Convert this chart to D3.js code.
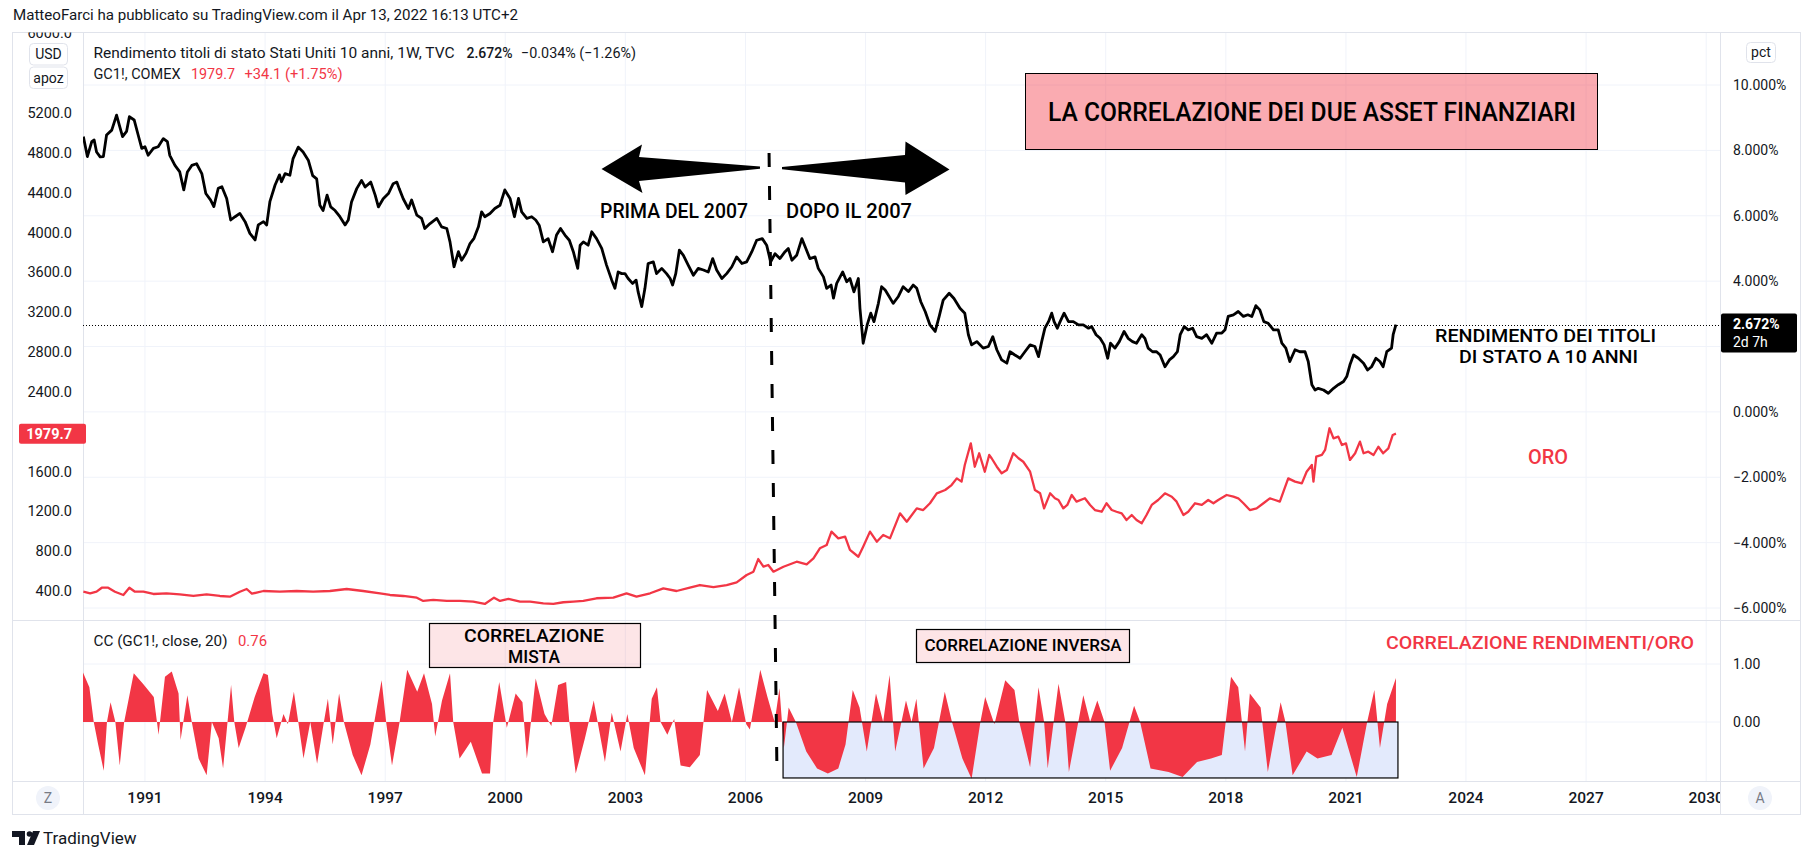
<!DOCTYPE html>
<html>
<head>
<meta charset="utf-8">
<script src="https://cdn.jsdelivr.net/npm/d3@7"></script>
<style>
  body { margin: 0; background: #fff; }
  svg text { font-family: Roboto, "Noto Sans", sans-serif; }
</style>
</head>
<body>
<div id="chart"></div>
<script>
// Valori (anni decimali)
const yearTicks = [1991, 1994, 1997, 2000, 2003, 2006, 2009, 2012, 2015, 2018, 2021, 2024, 2027, 2030];
const usdTicks = [6000, 5200, 4800, 4400, 4000, 3600, 3200, 2800, 2400, 1600, 1200, 800, 400];
const pctTicks = [10, 8, 6, 4, 2, 0, -2, -4, -6];
const pctLabels = [10, 8, 6, 4, 0, -2, -4, -6];
const ccTicks = [1, 0];

// Rendimento titoli di stato USA 10 anni (%)
const yieldSeries = [
  [1989.46,8.42],[1989.56,7.81],[1989.67,8.27],[1989.73,8.32],[1989.79,7.95],[1989.88,7.8],[1989.96,7.81],[1990.04,8.47],
  [1990.17,8.62],[1990.29,9.08],[1990.38,8.68],[1990.44,8.42],[1990.54,8.58],[1990.61,9.03],[1990.73,8.93],[1990.83,8.47],
  [1990.92,8.06],[1991.00,8.11],[1991.08,7.85],[1991.21,8.06],[1991.33,8.11],[1991.46,8.36],[1991.56,8.27],[1991.62,7.85],
  [1991.75,7.54],[1991.87,7.34],[1991.97,6.79],[1992.06,7.34],[1992.17,7.54],[1992.29,7.59],[1992.42,7.29],[1992.52,6.68],
  [1992.64,6.48],[1992.72,6.28],[1992.83,6.84],[1992.92,6.89],[1993.04,6.53],[1993.14,5.87],[1993.25,5.97],[1993.37,6.07],
  [1993.50,5.82],[1993.62,5.46],[1993.75,5.26],[1993.83,5.72],[1993.96,5.82],[1994.04,5.72],[1994.12,6.43],[1994.25,6.94],
  [1994.36,7.25],[1994.41,7.04],[1994.50,7.29],[1994.62,7.24],[1994.70,7.75],[1994.83,8.10],[1994.95,7.95],[1995.08,7.70],
  [1995.19,7.23],[1995.29,7.13],[1995.37,6.32],[1995.45,6.16],[1995.55,6.63],[1995.64,6.27],[1995.75,6.16],[1995.87,5.97],
  [1996.00,5.72],[1996.08,5.87],[1996.16,6.42],[1996.29,6.83],[1996.41,7.08],[1996.50,6.88],[1996.64,7.03],[1996.75,6.63],
  [1996.83,6.27],[1996.95,6.52],[1997.08,6.68],[1997.20,6.98],[1997.29,7.03],[1997.35,6.83],[1997.45,6.52],[1997.58,6.22],
  [1997.66,6.48],[1997.79,6.02],[1997.91,5.92],[1997.99,5.61],[1998.12,5.76],[1998.29,5.92],[1998.41,5.66],[1998.54,5.61],
  [1998.62,5.20],[1998.72,4.44],[1998.83,4.90],[1998.91,4.64],[1999.02,4.85],[1999.12,5.15],[1999.22,5.31],[1999.33,5.66],
  [1999.41,6.12],[1999.49,5.97],[1999.62,6.07],[1999.74,6.22],[1999.87,6.32],[1999.99,6.79],[2000.12,6.53],[2000.23,5.97],
  [2000.33,6.53],[2000.41,6.12],[2000.54,5.92],[2000.66,5.97],[2000.76,5.87],[2000.85,5.70],[2000.95,5.20],[2001.07,5.30],
  [2001.18,4.90],[2001.28,5.41],[2001.38,5.61],[2001.49,5.41],[2001.60,5.25],[2001.70,4.90],[2001.81,4.39],[2001.87,5.10],
  [2001.95,5.20],[2002.07,5.10],[2002.16,5.51],[2002.28,5.30],[2002.41,5.00],[2002.53,4.49],[2002.66,4.03],[2002.74,3.78],
  [2002.82,4.28],[2002.91,4.23],[2002.99,4.23],[2003.07,4.08],[2003.18,3.93],[2003.27,4.03],[2003.32,3.67],[2003.41,3.22],
  [2003.49,3.78],[2003.57,4.54],[2003.70,4.59],[2003.78,4.23],[2003.91,4.39],[2004.03,4.23],[2004.12,4.08],[2004.18,3.88],
  [2004.26,4.23],[2004.35,4.95],[2004.45,4.79],[2004.57,4.49],[2004.70,4.18],[2004.82,4.39],[2004.95,4.34],[2005.07,4.28],
  [2005.18,4.69],[2005.28,4.34],[2005.41,4.08],[2005.53,4.23],[2005.66,4.44],[2005.78,4.74],[2005.91,4.54],[2006.03,4.59],
  [2006.16,4.90],[2006.28,5.25],[2006.42,5.30],[2006.53,5.10],[2006.63,4.59],[2006.74,4.84],[2006.86,4.69],[2006.99,4.90],
  [2007.07,5.00],[2007.16,4.64],[2007.28,4.79],[2007.41,5.30],[2007.51,5.00],[2007.61,4.69],[2007.74,4.74],[2007.82,4.39],
  [2007.95,4.13],[2008.03,3.78],[2008.14,3.88],[2008.20,3.48],[2008.28,3.93],[2008.43,4.28],[2008.53,3.98],[2008.61,4.08],
  [2008.71,3.67],[2008.82,4.08],[2008.86,3.17],[2008.94,2.10],[2009.04,2.66],[2009.13,3.02],[2009.21,2.76],[2009.32,3.32],
  [2009.40,3.83],[2009.49,3.73],[2009.57,3.57],[2009.69,3.32],[2009.82,3.53],[2009.94,3.83],[2010.07,3.68],[2010.19,3.88],
  [2010.28,3.78],[2010.38,3.37],[2010.49,3.07],[2010.61,2.66],[2010.74,2.46],[2010.84,2.92],[2010.94,3.42],[2011.09,3.63],
  [2011.21,3.47],[2011.36,3.17],[2011.48,3.02],[2011.57,2.36],[2011.65,2.05],[2011.78,2.15],[2011.94,1.95],[2012.07,2.00],
  [2012.18,2.30],[2012.28,1.90],[2012.40,1.59],[2012.53,1.49],[2012.61,1.84],[2012.73,1.74],[2012.86,1.64],[2012.98,1.84],
  [2013.11,2.05],[2013.23,2.00],[2013.32,1.69],[2013.40,2.15],[2013.48,2.56],[2013.57,2.76],[2013.65,3.02],[2013.71,2.76],
  [2013.79,2.56],[2013.86,2.76],[2013.96,3.02],[2014.07,2.76],[2014.19,2.76],[2014.32,2.66],[2014.44,2.66],[2014.57,2.56],
  [2014.65,2.61],[2014.76,2.36],[2014.86,2.25],[2014.96,2.05],[2015.05,1.64],[2015.12,2.10],[2015.23,1.95],[2015.34,2.15],
  [2015.46,2.46],[2015.56,2.25],[2015.67,2.15],[2015.77,2.10],[2015.90,2.36],[2015.98,2.25],[2016.06,1.95],[2016.17,1.84],
  [2016.27,1.84],[2016.36,1.74],[2016.48,1.38],[2016.59,1.59],[2016.69,1.69],[2016.79,1.84],[2016.86,2.36],[2016.96,2.61],
  [2017.06,2.51],[2017.17,2.56],[2017.27,2.30],[2017.40,2.25],[2017.52,2.36],[2017.65,2.10],[2017.77,2.41],[2017.90,2.41],
  [2017.98,2.51],[2018.06,2.92],[2018.19,2.97],[2018.31,3.07],[2018.44,2.92],[2018.55,2.97],[2018.65,2.92],[2018.75,3.25],
  [2018.85,3.12],[2018.95,2.76],[2019.06,2.71],[2019.19,2.51],[2019.31,2.51],[2019.40,2.10],[2019.50,1.95],[2019.60,1.54],
  [2019.73,1.90],[2019.85,1.84],[2019.98,1.84],[2020.06,1.54],[2020.15,0.83],[2020.23,0.67],[2020.31,0.72],[2020.44,0.67],
  [2020.56,0.57],[2020.69,0.72],[2020.81,0.83],[2020.94,0.93],[2021.02,1.08],[2021.10,1.44],[2021.19,1.74],[2021.31,1.64],
  [2021.44,1.49],[2021.54,1.28],[2021.64,1.38],[2021.75,1.64],[2021.85,1.54],[2021.93,1.38],[2022.02,1.84],[2022.14,1.95],
  [2022.18,2.36],[2022.25,2.672]
];

// Oro GC1! COMEX (USD)
const goldSeries = [
  [1989.46,393],[1989.63,377],[1989.79,393],[1989.92,433],[1990.08,433],[1990.25,393],[1990.46,360],[1990.61,433],
  [1990.75,393],[1990.96,393],[1991.21,370],[1991.54,377],[1991.87,367],[1992.21,350],[1992.54,367],[1992.87,350],
  [1993.12,343],[1993.37,393],[1993.54,420],[1993.67,373],[1993.96,400],[1994.37,393],[1994.79,400],[1995.20,393],
  [1995.62,400],[1996.04,420],[1996.45,400],[1996.87,377],[1997.12,360],[1997.45,350],[1997.79,333],[1997.95,300],
  [1998.20,310],[1998.54,300],[1998.87,300],[1999.20,293],[1999.49,270],[1999.72,333],[1999.87,300],[2000.08,320],
  [2000.37,293],[2000.62,293],[2000.95,276],[2001.20,270],[2001.45,287],[2001.70,293],[2001.95,300],[2002.28,327],
  [2002.70,333],[2003.03,377],[2003.28,343],[2003.62,377],[2003.95,427],[2004.28,400],[2004.61,433],[2004.86,460],
  [2005.20,440],[2005.53,460],[2005.78,487],[2006.03,561],[2006.20,594],[2006.32,721],[2006.45,644],[2006.57,661],
  [2006.70,594],[2006.95,644],[2007.28,694],[2007.53,668],[2007.70,728],[2007.86,829],[2008.03,862],[2008.15,996],
  [2008.32,929],[2008.49,945],[2008.61,812],[2008.82,744],[2008.94,845],[2009.11,996],[2009.28,895],[2009.44,962],
  [2009.61,929],[2009.86,1180],[2010.03,1096],[2010.28,1230],[2010.44,1213],[2010.61,1281],[2010.78,1381],[2010.99,1414],
  [2011.15,1464],[2011.28,1531],[2011.40,1498],[2011.48,1665],[2011.63,1883],[2011.73,1648],[2011.84,1783],[2011.98,1598],
  [2012.09,1766],[2012.15,1733],[2012.28,1648],[2012.40,1582],[2012.53,1615],[2012.69,1783],[2012.82,1733],[2012.94,1698],
  [2013.11,1598],[2013.23,1414],[2013.36,1381],[2013.46,1230],[2013.61,1381],[2013.73,1331],[2013.82,1314],[2013.94,1230],
  [2014.04,1264],[2014.15,1364],[2014.27,1297],[2014.48,1331],[2014.61,1264],[2014.73,1213],[2014.90,1196],[2015.02,1281],
  [2015.15,1213],[2015.27,1196],[2015.40,1180],[2015.52,1113],[2015.65,1163],[2015.77,1113],[2015.90,1080],[2016.02,1163],
  [2016.15,1264],[2016.31,1314],[2016.48,1381],[2016.65,1347],[2016.77,1297],[2016.94,1163],[2017.06,1196],[2017.23,1281],
  [2017.40,1264],[2017.56,1314],[2017.69,1281],[2017.81,1314],[2018.02,1364],[2018.19,1347],[2018.31,1331],[2018.44,1281],
  [2018.60,1213],[2018.77,1230],[2018.94,1281],[2019.10,1331],[2019.23,1314],[2019.35,1297],[2019.44,1397],[2019.56,1531],
  [2019.73,1498],[2019.90,1481],[2020.02,1598],[2020.15,1665],[2020.19,1498],[2020.26,1749],[2020.40,1766],[2020.48,1816],
  [2020.59,2034],[2020.69,1933],[2020.81,1950],[2020.90,1866],[2021.00,1883],[2021.10,1716],[2021.23,1783],[2021.35,1900],
  [2021.44,1783],[2021.56,1799],[2021.69,1766],[2021.81,1849],[2021.93,1783],[2022.06,1833],[2022.17,1967],[2022.25,1979.7]
];

// CC (GC1!, close, 20)
const ccSeries = [
  [1989.44,0.87],[1989.61,0.6],[1989.72,0],[1989.83,-0.39],[1989.97,-0.84],[1990.05,0],[1990.14,0.34],[1990.26,0],
  [1990.37,-0.75],[1990.48,0],[1990.72,0.84],[1990.95,0.66],[1991.22,0.43],[1991.34,-0.22],[1991.50,0.78],[1991.67,0.87],
  [1991.84,0.49],[1991.89,-0.31],[1992.06,0.46],[1992.17,0],[1992.34,-0.63],[1992.54,-0.92],[1992.67,0],[1992.84,-0.28],
  [1992.95,-0.8],[1993.15,0.64],[1993.23,0],[1993.34,-0.45],[1993.51,-0.1],[1993.74,0.43],[1993.96,0.84],[1994.07,0.81],
  [1994.18,0.14],[1994.29,-0.28],[1994.46,0.14],[1994.57,-0.04],[1994.72,0.52],[1994.83,0],[1994.96,-0.63],[1995.13,0],
  [1995.30,-0.72],[1995.46,-0.04],[1995.57,0.4],[1995.69,-0.39],[1995.85,0.49],[1995.97,0],[1996.19,-0.57],[1996.41,-0.92],
  [1996.63,-0.39],[1996.91,0.72],[1997.03,-0.04],[1997.17,-0.75],[1997.36,0],[1997.55,0.9],[1997.80,0.52],[1997.97,0.84],
  [1998.17,0.31],[1998.25,-0.25],[1998.42,0.37],[1998.62,0.84],[1998.70,0],[1998.86,-0.63],[1999.14,-0.34],[1999.42,-0.89],
  [1999.62,-0.89],[1999.70,0],[1999.85,0.69],[2000.04,-0.1],[2000.26,0.49],[2000.43,0.34],[2000.54,-0.63],[2000.76,0.75],
  [2000.98,0.14],[2001.15,-0.07],[2001.32,0.64],[2001.52,0.69],[2001.60,0],[2001.76,-0.89],[2001.99,-0.28],[2002.21,0.37],
  [2002.49,-0.69],[2002.66,0.16],[2002.88,-0.51],[2003.05,0.14],[2003.21,-0.45],[2003.49,-0.92],[2003.66,0.4],[2003.79,0.6],
  [2003.88,0],[2004.05,-0.22],[2004.22,0.05],[2004.38,-0.75],[2004.61,-0.78],[2004.86,-0.57],[2005.04,0.55],[2005.31,0.19],
  [2005.48,0.49],[2005.66,0],[2005.84,0.6],[2006.02,-0.04],[2006.11,-0.13],[2006.37,0.9],[2006.55,0.43],[2006.73,0],
  [2006.85,0.58],[2006.96,-0.45],[2007.08,0.25],[2007.26,0],[2007.52,-0.51],[2007.79,-0.8],[2008.06,-0.89],[2008.32,-0.8],
  [2008.50,-0.39],[2008.68,0.55],[2008.85,0.25],[2009.03,-0.51],[2009.26,0.49],[2009.44,0],[2009.60,0.81],[2009.74,-0.51],
  [2010.01,0.37],[2010.15,0],[2010.27,0.4],[2010.45,-0.8],[2010.71,-0.45],[2010.98,0.52],[2011.16,0],[2011.42,-0.63],
  [2011.65,-0.98],[2011.87,0],[2011.99,0.43],[2012.22,-0.04],[2012.49,0.72],[2012.72,0.55],[2012.84,0],[2013.11,-0.78],
  [2013.32,0.6],[2013.46,0],[2013.55,-0.8],[2013.82,0.66],[2013.99,0],[2014.08,-0.86],[2014.44,0.46],[2014.61,0],
  [2014.79,0.37],[2014.97,0],[2015.11,-0.84],[2015.41,-0.45],[2015.71,0.28],[2015.86,0],[2016.12,-0.8],[2016.57,-0.86],
  [2016.92,-0.95],[2017.28,-0.69],[2017.63,-0.63],[2017.90,-0.57],[2018.13,0.78],[2018.31,0.6],[2018.48,-0.51],[2018.60,0.49],
  [2018.87,0.25],[2019.05,-0.86],[2019.37,0.34],[2019.49,0],[2019.67,-0.92],[2020.02,-0.51],[2020.29,-0.63],[2020.64,-0.57],
  [2020.91,-0.1],[2021.27,-0.95],[2021.53,0],[2021.71,0.55],[2021.85,-0.45],[2022.03,0.31],[2022.25,0.76]
];

const lastYield = 2.672, lastGold = 1979.7, lastCC = 0.76;
const split2007 = [2006.59, 2006.79];   // linea tratteggiata
const inverseSpan = [2006.94, 2022.30]; // rettangolo blu

const red = '#f23645', ink = '#131722', grid = '#f0f3fa', border = '#e0e3eb';
const W = 1813, H = 859;
const plotL = 83, plotR = 1720, frameL = 12.5, frameR = 1800.5;
const topY0 = 32.5, topY1 = 620, ccY1 = 781, axisY1 = 814.5;

// anno decimale -> Date
const toDate = y => {
  const yr = Math.floor(y);
  const a = Date.UTC(yr, 0, 1), b = Date.UTC(yr + 1, 0, 1);
  return new Date(a + (y - yr) * (b - a));
};

document.addEventListener('DOMContentLoaded', () => {
  const svg = d3.select('#chart').append('svg')
    .attr('width', W).attr('height', H)
    .style('display', 'block');

  const x = d3.scaleTime().domain([toDate(1989.451), toDate(2030.345)]).range([plotL, plotR]);
  const yUsd = d3.scaleLinear().domain([400, 5200]).range([591, 113]);
  const yPct = d3.scaleLinear().domain([-6, 10]).range([608, 85]);
  const yCC = d3.scaleLinear().domain([-1, 1]).range([780, 664]);

  const defs = svg.append('defs');
  const clip = (id, x0, y0, w, h) => defs.append('clipPath').attr('id', id)
    .append('rect').attr('x', x0).attr('y', y0).attr('width', w).attr('height', h);
  clip('clip-top', plotL, topY0, plotR - plotL, topY1 - topY0);
  clip('clip-cc', plotL, topY1, plotR - plotL, ccY1 - topY1);
  clip('clip-left', frameL, topY0, plotL - frameL, topY1 - topY0);
  clip('clip-time', plotL, ccY1, plotR - plotL, axisY1 - ccY1);

  // testo a larghezza fissa (misurata sul riferimento)
  const txt = (tx, ty, str, size, len, opts = {}) => svg.append('text')
    .attr('x', tx).attr('y', ty).attr('dy', '0.35em')
    .attr('text-anchor', opts.anchor || 'start')
    .attr('font-size', size).attr('font-weight', opts.weight || 400)
    .attr('fill', opts.color || ink)
    .attr('textLength', len).attr('lengthAdjust', 'spacingAndGlyphs')
    .text(str);

  // Intestazione
  txt(13, 15, 'MatteoFarci ha pubblicato su TradingView.com il Apr 13, 2022 16:13 UTC+2', 15, 505);

  // Griglia
  const g = svg.append('g');
  g.selectAll('.vgrid').data(yearTicks).enter().append('line')
    .attr('x1', d => x(toDate(d))).attr('x2', d => x(toDate(d)))
    .attr('y1', topY0).attr('y2', ccY1)
    .attr('stroke', grid).attr('clip-path', 'url(#clip-top)');
  g.selectAll('.vgrid2').data(yearTicks).enter().append('line')
    .attr('x1', d => x(toDate(d))).attr('x2', d => x(toDate(d)))
    .attr('y1', topY1).attr('y2', ccY1)
    .attr('stroke', grid).attr('clip-path', 'url(#clip-cc)');
  g.selectAll('.hgrid').data(pctTicks).enter().append('line')
    .attr('x1', plotL).attr('x2', plotR)
    .attr('y1', d => yPct(d)).attr('y2', d => yPct(d))
    .attr('stroke', grid);
  g.selectAll('.ccgrid').data(ccTicks).enter().append('line')
    .attr('x1', plotL).attr('x2', plotR)
    .attr('y1', d => yCC(d)).attr('y2', d => yCC(d))
    .attr('stroke', grid);

  // Cornice e separatori
  svg.append('rect').attr('x', frameL).attr('y', topY0)
    .attr('width', frameR - frameL).attr('height', axisY1 - topY0)
    .attr('fill', 'none').attr('stroke', border);
  [[plotL + 0.5, topY0, plotL + 0.5, axisY1], [plotR + 0.5, topY0, plotR + 0.5, axisY1],
   [frameL, topY1 + 0.5, frameR, topY1 + 0.5], [frameL, ccY1 + 0.5, frameR, ccY1 + 0.5]]
    .forEach(([x1, y1, x2, y2]) => svg.append('line')
      .attr('x1', x1).attr('y1', y1).attr('x2', x2).attr('y2', y2).attr('stroke', border));

  // Riquadro grande in alto
  svg.append('rect').attr('x', 1025.5).attr('y', 73.5).attr('width', 572).attr('height', 76)
    .attr('fill', 'rgba(242,54,69,0.42)').attr('stroke', '#000');
  const mid = { anchor: 'middle', color: '#000', weight: 500 };
  txt(1312, 112, 'LA CORRELAZIONE DEI DUE ASSET FINANZIARI', 25, 528, mid);

  // Serie
  const line = (ys) => d3.line().x(d => x(toDate(d[0]))).y(d => ys(d[1]));
  svg.append('path').datum(goldSeries)
    .attr('d', line(yUsd)).attr('fill', 'none').attr('stroke', red)
    .attr('stroke-width', 2.3).attr('stroke-linejoin', 'round').attr('clip-path', 'url(#clip-top)');
  svg.append('path').datum(yieldSeries)
    .attr('d', line(yPct)).attr('fill', 'none').attr('stroke', '#000')
    .attr('stroke-width', 2.8).attr('stroke-linejoin', 'round').attr('clip-path', 'url(#clip-top)');

  // Linea di prezzo tratteggiata
  svg.append('line').attr('x1', plotL).attr('x2', plotR)
    .attr('y1', Math.round(yPct(lastYield)) + 0.5).attr('y2', Math.round(yPct(lastYield)) + 0.5)
    .attr('stroke', '#000').attr('stroke-dasharray', '1,2');

  // Pannello CC
  const inv0 = x(toDate(inverseSpan[0])), inv1 = x(toDate(inverseSpan[1]));
  svg.append('rect').attr('x', inv0).attr('y', yCC(0)).attr('width', inv1 - inv0)
    .attr('height', yCC(-0.965) - yCC(0)).attr('fill', '#e3eafc');
  svg.append('path').datum(ccSeries)
    .attr('d', d3.area().x(d => x(toDate(d[0]))).y0(yCC(0)).y1(d => yCC(d[1])))
    .attr('fill', red).attr('clip-path', 'url(#clip-cc)');
  svg.append('rect').attr('x', inv0).attr('y', yCC(0)).attr('width', inv1 - inv0)
    .attr('height', yCC(-0.965) - yCC(0)).attr('fill', 'none').attr('stroke', '#000').attr('stroke-width', 1.2);

  // Linea 2007
  svg.append('line')
    .attr('x1', x(toDate(split2007[0]))).attr('y1', 153)
    .attr('x2', x(toDate(split2007[1]))).attr('y2', 779)
    .attr('stroke', '#000').attr('stroke-width', 3).attr('stroke-dasharray', '14,19');

  // Frecce
  svg.append('path')
    .attr('d', 'M601.5,169 L642,144.5 L639,157 L760,166.5 L760,168.8 L639,181 L642.5,193 Z')
    .attr('fill', '#000');
  svg.append('path')
    .attr('d', 'M782,167 L905,155 L905.5,141.5 L949.5,169.5 L905.5,195 L905,182.5 L782,169.3 Z')
    .attr('fill', '#000');

  txt(674, 211.5, 'PRIMA DEL 2007', 19.5, 148, mid);
  txt(849, 211.5, 'DOPO IL 2007', 19.5, 126, mid);
  txt(1545.5, 335, 'RENDIMENTO DEI TITOLI', 19, 221, mid);
  txt(1548.5, 356, 'DI STATO A 10 ANNI', 19, 179, mid);
  txt(1548, 457, 'ORO', 19.5, 40, { anchor: 'middle', color: red, weight: 500 });

  svg.append('rect').attr('x', 429.5).attr('y', 623.5).attr('width', 211).attr('height', 44)
    .attr('fill', 'rgba(242,54,69,0.13)').attr('stroke', '#000').attr('stroke-width', 1.2);
  txt(534, 636, 'CORRELAZIONE', 18, 140, mid);
  txt(534, 657, 'MISTA', 18, 52, mid);
  svg.append('rect').attr('x', 916.5).attr('y', 629.5).attr('width', 213).attr('height', 33)
    .attr('fill', 'rgba(242,54,69,0.13)').attr('stroke', '#000').attr('stroke-width', 1.2);
  txt(1023, 645, 'CORRELAZIONE INVERSA', 16.5, 197, mid);
  txt(1540, 642, 'CORRELAZIONE RENDIMENTI/ORO', 19, 308, { anchor: 'middle', color: red, weight: 500 });

  // Legende
  txt(93.5, 53, 'Rendimento titoli di stato Stati Uniti 10 anni, 1W, TVC', 15, 361);
  txt(466.5, 53, lastYield.toFixed(3) + '%', 15, 46, { weight: 500 });
  txt(521, 53, '\u22120.034% (\u22121.26%)', 15, 115);
  txt(93.5, 74, 'GC1!, COMEX', 15, 87);
  txt(191, 74, lastGold.toFixed(1), 15, 44, { color: red });
  txt(244.5, 74, '+34.1 (+1.75%)', 15, 98, { color: red });
  txt(93.5, 641, 'CC (GC1!, close, 20)', 15, 134);
  txt(238, 641, lastCC.toFixed(2), 15, 29, { color: red });

  // Asse sinistro (USD)
  const left = svg.append('g').attr('clip-path', 'url(#clip-left)');
  left.selectAll('text').data(usdTicks).enter().append('text')
    .attr('x', 72).attr('y', d => yUsd(d)).attr('dy', '0.35em')
    .attr('text-anchor', 'end').attr('font-size', 14.5).attr('fill', ink)
    .text(d => d3.format('.1f')(d));
  [['USD', 43.5], ['apoz', 67]].forEach(([s, by]) => {
    svg.append('rect').attr('x', 29.5).attr('y', by).attr('width', 38).attr('height', 21.5)
      .attr('rx', 4).attr('fill', '#fff').attr('stroke', border);
    svg.append('text').attr('x', 48.5).attr('y', by + 11).attr('dy', '0.35em')
      .attr('text-anchor', 'middle').attr('font-size', 14).attr('fill', ink).text(s);
  });
  const gy = yUsd(lastGold);
  svg.append('rect').attr('x', 19).attr('y', gy - 10).attr('width', 67).attr('height', 20)
    .attr('rx', 2).attr('fill', red);
  svg.append('text').attr('x', 72).attr('y', gy).attr('dy', '0.35em')
    .attr('text-anchor', 'end').attr('font-size', 14.5).attr('font-weight', 700)
    .attr('fill', '#fff').text(lastGold.toFixed(1));

  // Asse destro (pct)
  const pctFmt = d => (d < 0 ? '\u2212' : '') + Math.abs(d).toFixed(3) + '%';
  svg.selectAll('.pct').data(pctLabels).enter().append('text')
    .attr('x', 1733).attr('y', d => yPct(d)).attr('dy', '0.35em')
    .attr('font-size', 14).attr('fill', ink).text(pctFmt);
  svg.append('rect').attr('x', 1746.5).attr('y', 42.5).attr('width', 29).attr('height', 20)
    .attr('rx', 4).attr('fill', '#fff').attr('stroke', border);
  svg.append('text').attr('x', 1761).attr('y', 52.5).attr('dy', '0.35em')
    .attr('text-anchor', 'middle').attr('font-size', 14).attr('fill', ink).text('pct');
  const py = yPct(lastYield);
  svg.append('rect').attr('x', 1721).attr('y', py - 11).attr('width', 76).attr('height', 39)
    .attr('rx', 2).attr('fill', '#000');
  svg.append('text').attr('x', 1733).attr('y', py).attr('dy', '0.35em')
    .attr('font-size', 14).attr('font-weight', 700).attr('fill', '#fff').text(pctFmt(lastYield));
  svg.append('text').attr('x', 1733).attr('y', py + 18).attr('dy', '0.35em')
    .attr('font-size', 14).attr('fill', '#fff').text('2d 7h');

  svg.selectAll('.cct').data(ccTicks).enter().append('text')
    .attr('x', 1733).attr('y', d => yCC(d)).attr('dy', '0.35em')
    .attr('font-size', 14).attr('fill', ink).text(d => d.toFixed(2));

  // Asse del tempo
  svg.append('g').attr('clip-path', 'url(#clip-time)')
    .selectAll('text').data(yearTicks).enter().append('text')
    .attr('x', d => x(toDate(d))).attr('y', 798).attr('dy', '0.35em')
    .attr('text-anchor', 'middle').attr('font-size', 15.5).attr('font-weight', 500).attr('fill', ink)
    .text(d => d);
  [['Z', 48], ['A', 1760]].forEach(([s, cx]) => {
    svg.append('circle').attr('cx', cx).attr('cy', 798).attr('r', 12).attr('fill', grid);
    svg.append('text').attr('x', cx).attr('y', 798).attr('dy', '0.35em')
      .attr('text-anchor', 'middle').attr('font-size', 14).attr('fill', '#787b86').text(s);
  });

  // Logo TradingView
  const logo = svg.append('g').attr('fill', ink);
  logo.append('path').attr('d', 'M12,831 h13 v14 h-6 v-8 h-7 Z');
  logo.append('circle').attr('cx', 29.5).attr('cy', 834).attr('r', 2.8);
  logo.append('path').attr('d', 'M33,831 h7 l-6,14 h-7 Z');
  svg.append('text').attr('x', 43).attr('y', 838).attr('dy', '0.35em')
    .attr('font-size', 17).attr('fill', ink).text('TradingView');
});
</script>
</body>
</html>
